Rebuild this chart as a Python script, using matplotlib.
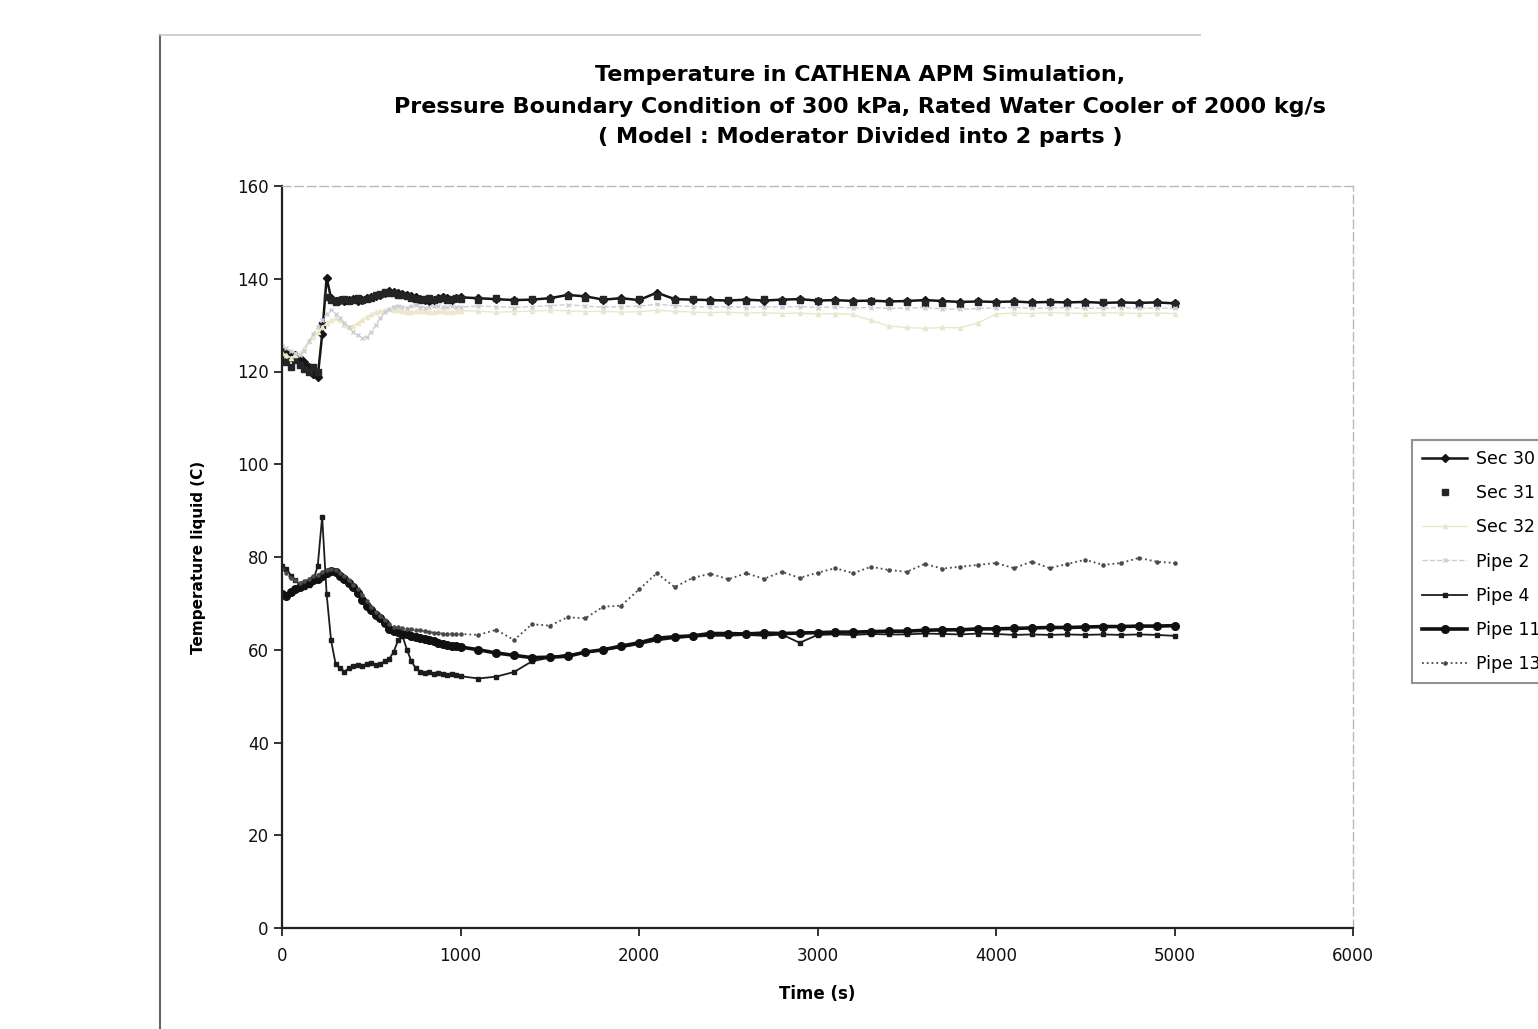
import numpy as np
import matplotlib
matplotlib.use("Agg")
import matplotlib.pyplot as plt
from matplotlib.lines import Line2D

plt.rcParams['font.family'] = ['DejaVu Sans']

# Sampling times (s): 25 s steps up to 1000 s, then 100 s steps
time_s = np.concatenate([np.arange(0, 1001, 25), np.arange(1100, 5001, 100)])

sec30 = [124.5, 124.0, 123.2, 123.5, 123.0, 122.0, 121.0, 119.5, 118.8, 128.0,
         140.2, 135.8, 135.3, 135.5, 135.2, 135.4, 135.6, 135.3, 135.5, 135.8,
         136.0, 136.2, 136.6, 137.0, 137.3, 137.2, 137.0, 136.8, 136.5, 136.2,
         136.0, 135.7, 135.5, 135.3, 135.5, 135.8, 136.0, 135.8, 135.5, 135.8,
         136.0,
         135.8, 135.6, 135.4, 135.5, 135.8, 136.5, 136.2, 135.5, 135.8, 135.4,
         137.0, 135.6, 135.5, 135.4, 135.3, 135.5, 135.3, 135.5, 135.6, 135.3,
         135.4, 135.2, 135.3, 135.1, 135.2, 135.4, 135.2, 135.0, 135.1, 135.0,
         135.1, 134.9, 135.0, 134.9, 135.0, 134.8, 134.9, 134.8, 134.9, 134.7]

sec31 = [123.5, 122.0, 121.0, 122.5, 121.5, 120.5, 120.0, 121.0, 120.0, 130.0,
         136.0, 135.5, 135.0, 135.4, 135.6, 135.2, 135.5, 135.8, 135.4, 135.6,
         135.9, 136.4, 136.8, 137.1, 137.0, 136.9, 136.6, 136.4, 136.2, 135.9,
         135.6, 135.4, 135.6, 135.8, 135.4, 135.6, 135.9, 135.5, 135.7, 135.9,
         135.6,
         135.5, 135.9, 135.3, 135.7, 135.6, 136.3, 135.9, 135.7, 135.5, 135.6,
         136.2, 135.4, 135.7, 135.2, 135.5, 135.3, 135.6, 135.2, 135.4, 135.1,
         135.3, 135.0, 135.2, 135.0, 134.9, 134.7, 134.8, 134.6, 135.0, 134.8,
         134.9, 134.7, 134.9, 134.8, 134.7, 134.9, 134.7, 134.6, 134.8, 134.6]

sec32 = [124.0, 123.5, 123.0, 123.5, 124.0, 125.0, 126.5, 127.5, 128.5, 129.5,
         130.5, 131.0, 131.5, 131.0, 130.0, 129.5, 129.8, 130.5, 131.2, 131.8,
         132.3, 132.8, 133.0, 133.2, 133.4, 133.3, 133.2, 133.0, 132.8, 132.9,
         133.0, 133.1, 133.0, 132.8, 132.9, 133.0, 133.1, 132.9, 132.8, 133.0,
         133.1,
         133.0, 132.8, 132.9, 133.0, 133.2, 133.1, 132.9, 133.0, 132.8, 132.9,
         133.2, 133.0, 132.8, 132.7, 132.8, 132.6, 132.7, 132.5, 132.6, 132.4,
         132.5, 132.3, 131.0, 129.8, 129.5, 129.3, 129.5, 129.4, 130.5, 132.4,
         132.6, 132.5, 132.7, 132.6, 132.5, 132.7, 132.6, 132.5, 132.6, 132.5]

pipe2 = [125.5, 125.0, 124.5, 124.0, 123.5, 124.5, 126.5, 128.0, 129.5, 131.0,
         132.5, 133.3, 132.5, 131.5, 130.5, 129.5, 128.5, 127.8, 127.2, 127.5,
         128.5, 130.0, 131.5, 132.8, 133.5, 134.0, 134.2, 134.0, 133.8, 134.1,
         134.3, 134.0, 133.8, 134.0, 134.2, 134.1, 133.9, 134.0, 134.2, 134.0,
         133.9,
         134.1, 134.0, 133.8, 134.0, 134.2, 134.4, 134.1, 133.9, 134.0, 134.1,
         134.5, 134.2, 134.0, 133.9, 134.0, 133.8, 134.0, 133.9, 134.0, 133.8,
         133.9, 133.7, 133.8, 133.6, 133.7, 133.8, 133.5, 133.4, 133.6, 133.7,
         133.8, 133.6, 133.7, 133.8, 133.6, 133.7, 133.8, 133.6, 133.7, 133.6]

pipe4 = [78.0, 77.5, 76.0, 75.0, 74.0, 73.5, 74.0, 75.0, 78.0, 88.7,
         72.0, 62.0, 57.0, 56.0, 55.3, 56.0, 56.5, 56.8, 56.5, 57.0,
         57.2, 56.8, 57.0, 57.5, 58.0, 59.5, 62.0, 63.0, 60.0, 57.5,
         56.0, 55.3, 55.0, 55.2, 54.8, 55.0, 54.7, 54.5, 54.8, 54.5,
         54.3,
         53.8, 54.2, 55.2, 57.5, 58.3, 59.0, 59.3, 60.0, 60.5, 61.2,
         62.0, 62.5, 62.8, 63.0, 63.0, 63.2, 63.0, 63.3, 61.5, 63.2,
         63.3, 63.2, 63.4, 63.3, 63.3, 63.5, 63.4, 63.3, 63.5, 63.4,
         63.2, 63.3, 63.2, 63.3, 63.2, 63.3, 63.2, 63.3, 63.2, 63.0]

pipe11 = [72.0, 71.5, 72.5, 73.0, 73.6, 74.0, 74.5, 75.0, 75.3, 76.0,
          76.5, 77.0, 76.8, 76.0, 75.2, 74.4, 73.5, 72.3, 70.8, 69.5,
          68.5, 67.5, 66.8, 65.8, 64.5, 64.0, 63.8, 63.5, 63.3, 63.0,
          62.8, 62.6, 62.3, 62.0, 61.8, 61.5, 61.2, 61.0, 60.9, 60.8,
          60.6,
          60.0, 59.3, 58.8, 58.3, 58.4, 58.6, 59.5, 60.0, 60.8, 61.5,
          62.5, 62.8, 63.0, 63.5, 63.5, 63.4, 63.6, 63.5, 63.6, 63.7,
          63.8, 63.8, 63.9, 64.0, 64.0, 64.2, 64.3, 64.3, 64.5, 64.5,
          64.6, 64.7, 64.8, 64.8, 64.9, 65.0, 65.0, 65.1, 65.1, 65.2]

pipe13 = [77.5, 76.5, 75.5, 75.0, 74.5, 74.8, 75.3, 75.8, 76.2, 76.8,
          77.3, 77.5, 77.2, 76.6, 75.8, 75.0, 74.0, 73.0, 71.8, 70.5,
          69.3, 68.2, 67.3, 66.5, 65.6, 65.0, 64.8, 64.6, 64.5, 64.4,
          64.3, 64.2, 64.0, 63.8, 63.7, 63.6, 63.5, 63.4, 63.5, 63.3,
          63.4,
          63.2, 64.3, 62.1, 65.5, 65.2, 67.0, 66.8, 69.3, 69.5, 73.0,
          76.5, 73.5, 75.5, 76.4, 75.2, 76.5, 75.3, 76.8, 75.5, 76.6,
          77.6, 76.5, 77.9, 77.2, 76.8, 78.5, 77.5, 77.9, 78.3, 78.7,
          77.6, 79.0, 77.6, 78.5, 79.4, 78.3, 78.7, 79.8, 79.0, 78.7]

series = [
    ("Sec 30", sec30, dict(color="#151515", marker="D", ms=4.5, lw=1.8)),
    ("Sec 31", sec31, dict(color="#252525", marker="s", ms=4.5, lw=0)),
    ("Sec 32", sec32, dict(color="#ece7c8", marker="^", ms=3, lw=1.0)),
    ("Pipe 2", pipe2, dict(color="#cdcdd4", marker="x", ms=3, lw=1.0, ls="--")),
    ("Pipe 4", pipe4, dict(color="#1c1c1c", marker="s", ms=3.5, lw=1.3)),
    ("Pipe 11", pipe11, dict(color="#101010", marker="o", ms=5.5, lw=2.6)),
    ("Pipe 13", pipe13, dict(color="#4a4a4a", marker=".", ms=4.5, lw=1.3, ls=":")),
]

fig = plt.figure(figsize=(15.38, 10.29), dpi=100)
ax = fig.add_axes([282 / 1538, 1 - 928 / 1029, (1353 - 282) / 1538, (928 - 186) / 1029])

for name, vals, style in series:
    ax.plot(time_s, vals, label=name, **style)

ax.set_xlim(0, 6000)
ax.set_ylim(0, 160)
ax.set_xticks(np.arange(0, 6001, 1000))
ax.set_yticks(np.arange(0, 161, 20))
ax.tick_params(direction="out", length=6, width=1.2, labelsize=12, colors="#111111")
ax.tick_params(axis="x", pad=8)
for side in ("left", "bottom"):
    ax.spines[side].set_color("#222222")
    ax.spines[side].set_linewidth(1.6)
for side in ("top", "right"):
    ax.spines[side].set_color("#b8b8b8")
    ax.spines[side].set_linewidth(1.0)
    ax.spines[side].set_linestyle((0, (6, 3)))

ax.set_xlabel("Time (s)", fontsize=12, fontweight="bold", labelpad=14)
ax.set_ylabel("Temperature liquid (C)", fontsize=11, fontweight="bold", labelpad=22)

fig.text(860 / 1538, 1 - 75 / 1029, "Temperature in CATHENA APM Simulation,",
         ha="center", va="center", fontsize=16, fontweight="bold")
fig.text(860 / 1538, 1 - 107 / 1029,
         "Pressure Boundary Condition of 300 kPa, Rated Water Cooler of 2000 kg/s",
         ha="center", va="center", fontsize=16, fontweight="bold")
fig.text(860 / 1538, 1 - 137 / 1029, "( Model : Moderator Divided into 2 parts )",
         ha="center", va="center", fontsize=16, fontweight="bold")

leg = fig.legend(loc="upper left", bbox_to_anchor=(1403 / 1538, 1 - 431 / 1029),
                 fontsize=12.5, handlelength=2.6, labelspacing=0.93, borderpad=0.6,
                 handletextpad=0.5, frameon=True, fancybox=False, edgecolor="#777777")
leg.get_frame().set_linewidth(1.5)

# Page frame of the chart area
fig.add_artist(Line2D([160 / 1538, 160 / 1538], [0, 1 - 35 / 1029],
                      transform=fig.transFigure, color="#666666", lw=1.5))
fig.add_artist(Line2D([160 / 1538, 1200 / 1538], [1 - 35 / 1029, 1 - 35 / 1029],
                      transform=fig.transFigure, color="#c8c8c8", lw=1.2))

fig.savefig("out.png", dpi=100, facecolor="white")
